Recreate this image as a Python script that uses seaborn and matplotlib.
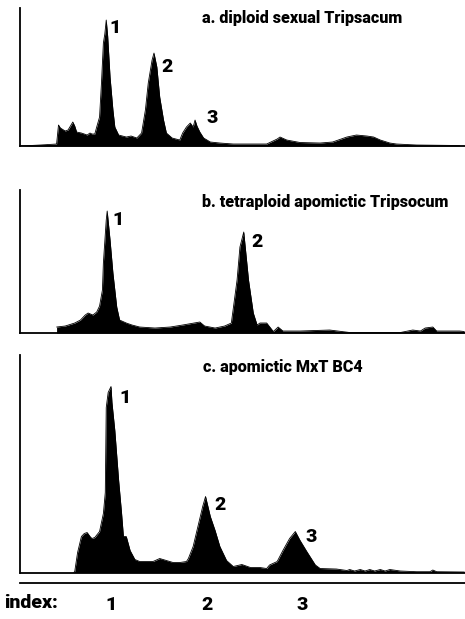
import numpy as np
import pandas as pd
import seaborn as sns
import matplotlib.pyplot as plt

# relative DNA content (index) and event counts
idx_a = [0.05, 0.26, 0.43, 0.45, 0.47, 0.52, 0.55, 0.60, 0.62, 0.64, 0.69, 0.72, 0.75, 0.78, 0.80,
         0.83, 0.85, 0.88, 0.90, 0.92, 0.935, 0.95, 0.965, 0.99, 1.02, 1.04, 1.08, 1.12, 1.16, 1.21,
         1.27, 1.32, 1.36, 1.39, 1.43, 1.45, 1.48, 1.51, 1.55, 1.58, 1.64, 1.72, 1.75, 1.79, 1.83,
         1.86, 1.88, 1.90, 1.93, 1.97, 2.04, 2.14, 2.28, 2.46, 2.63, 2.74, 2.77, 2.84, 2.98, 3.19,
         3.32, 3.47, 3.57, 3.68, 3.75, 3.82, 3.92, 3.99, 4.20, 4.65]
cnt_a = [0, 1, 2, 21, 18, 15, 16, 24, 20, 14, 13, 12, 11, 13, 12,
         12, 19, 29, 63, 103, 112, 126, 110, 69, 36, 19, 11, 10, 9, 10,
         8, 13, 36, 63, 86, 93, 79, 49, 26, 13, 8, 6, 13, 19, 23,
         19, 26, 20, 14, 8, 4, 3, 2, 2, 2, 7, 9, 6, 3.5, 3,
         4, 9, 11, 10, 9, 6, 3, 2, 1, 0.5]

idx_b = [0.43, 0.52, 0.62, 0.68, 0.73, 0.76, 0.81, 0.85, 0.88, 0.91, 0.92, 0.95, 0.96, 0.99, 1.02,
         1.06, 1.09, 1.16, 1.22, 1.30, 1.46, 1.62, 1.75, 1.93, 1.98, 2.09, 2.19, 2.26, 2.32, 2.35,
         2.39, 2.44, 2.49, 2.53, 2.56, 2.63, 2.70, 2.75, 2.80, 2.98, 3.29, 3.50, 4.03, 4.16, 4.24,
         4.29, 4.37, 4.41, 4.65, 4.70]
cnt_b = [6, 7, 10, 13, 18, 20, 18, 21, 27, 43, 70, 113, 122, 93, 60,
         26, 13, 10, 8, 6, 5, 6, 8, 11, 7, 5, 7, 10, 53, 86,
         101, 53, 20, 8, 10, 10, 1.5, 6, 2, 2, 3, 0.5, 0.5, 3, 2,
         5, 6, 2, 2, 1.5]

idx_c = [0.61, 0.62, 0.65, 0.69, 0.72, 0.75, 0.78, 0.80, 0.83, 0.88, 0.92, 0.94, 0.95, 0.97, 1.00,
         1.01, 1.04, 1.08, 1.11, 1.13, 1.16, 1.20, 1.25, 1.30, 1.37, 1.44, 1.51, 1.58, 1.65, 1.72,
         1.79, 1.81, 1.86, 1.91, 1.96, 1.99, 2.04, 2.09, 2.14, 2.21, 2.28, 2.37, 2.46, 2.56, 2.63,
         2.66, 2.74, 2.80, 2.87, 2.93, 2.98, 3.05, 3.14, 3.19, 3.36, 3.47, 3.50, 3.55, 3.61, 3.66,
         3.71, 3.76, 3.82, 3.87, 3.92, 4.03, 4.20, 4.34, 4.37, 4.41, 4.70]
cnt_c = [0, 1, 20, 36, 39, 40, 36, 34, 35, 41, 59, 80, 165, 180, 186,
         170, 142, 92, 60, 36, 36, 22, 13, 11, 11, 11, 14, 12, 10, 10,
         11, 14, 26, 46, 66, 76, 56, 42, 26, 12, 6, 8, 5, 5, 4,
         7.5, 11, 22, 34, 41, 32, 21, 7.5, 4, 3.5, 2, 3, 1.5, 3, 1.5,
         3, 1.5, 3, 1.5, 3, 1.5, 0.8, 0.8, 2.5, 0.8, 0.5]

titles = ['a. diploid sexual Tripsacum', 'b. tetraploid apomictic Tripsocum', 'c. apomictic MxT BC4']
peak_names = [['1', '2', '3'], ['1', '2'], ['1', '2', '3']]
peak_idx = [[1.04, 1.59, 2.06], [1.07, 2.53], [1.15, 2.14, 3.10]]
peak_cnt = [[118, 79, 28], [113, 91], [174.5, 67.5, 35.5]]
index_ticks = [1, 2, 3]

sns.set_style('white')
plt.rcParams['font.family'] = ['Roboto', 'DejaVu Sans']
plt.rcParams['font.weight'] = 'black'
plt.rcParams['text.color'] = 'black'
plt.rcParams['xtick.color'] = 'black'

fig = plt.figure(figsize=(4.65, 6.19), dpi=100)
boxes = [[0.042, 0.7641, 0.958, 0.2229], [0.042, 0.462, 0.958, 0.231], [0.042, 0.0751, 0.958, 0.3514]]
ymax = [138, 143, 217.5]
title_pos = [(0.634, 0.93), (0.686, 0.918), (0.591, 0.945)]

data = [(idx_a, cnt_a), (idx_b, cnt_b), (idx_c, cnt_c)]
for i, (x, y) in enumerate(data):
    ax = fig.add_axes(boxes[i])
    df = pd.DataFrame({'index': x, 'count': y})
    sns.lineplot(data=df, x='index', y='count', color='black', lw=0.6, ax=ax)
    ax.fill_between(df['index'], df['count'], color='black', lw=0)
    ax.set_xlim(0.042, 4.707)
    ax.set_ylim(0, ymax[i])
    ax.set_xlabel('')
    ax.set_ylabel('')
    ax.set_yticks([])
    for s in ['top', 'right']:
        ax.spines[s].set_visible(False)
    for s in ['left', 'bottom']:
        ax.spines[s].set_color('black')
        ax.spines[s].set_linewidth(1.3)
    ax.text(title_pos[i][0], title_pos[i][1], titles[i], transform=ax.transAxes,
            ha='center', va='center', fontsize=11.6, fontweight='black')
    for name, px, py in zip(peak_names[i], peak_idx[i], peak_cnt[i]):
        ax.text(px, py, name, ha='center', va='center', fontsize=14, fontweight='black')
    if i < 2:
        ax.set_xticks([])
    else:
        ax.axhline(0, color='black', lw=1.3, clip_on=False)
        ax.spines['bottom'].set_position(('outward', 7.6))
        ax.set_xticks(index_ticks)
        ax.set_xticklabels([str(t) for t in index_ticks])
        ax.tick_params(axis='x', direction='out', length=7, width=1.2, pad=2,
                       labelsize=14, color='black')
        for lab in ax.get_xticklabels():
            lab.set_fontweight('black')

fig.text(0.008, 0.026, 'index:', fontsize=14, fontweight='black', va='center', ha='left')

fig.savefig('out.png', dpi=100)
